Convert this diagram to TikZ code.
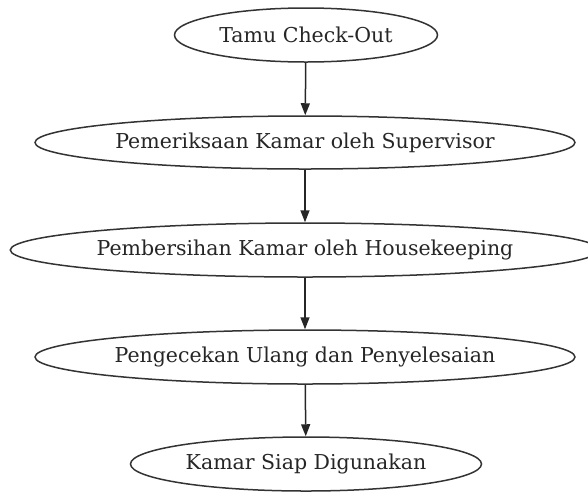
\documentclass[tikz,border=0pt]{standalone}
\usepackage{fontspec}
\setmainfont{DejaVu Serif}
\usetikzlibrary{shapes.geometric,arrows.meta}
\tikzset{
  stepnode/.style={draw=black!80, ellipse, inner sep=0pt, line width=1.5pt, font=\fontsize{20.5}{24}\selectfont, text=black!85},
  flowarrow/.style={draw=black!85, -{Triangle[length=12pt,width=9pt]}, line width=1.5pt}
}
\begin{document}
\begin{tikzpicture}[x=1pt,y=-1pt]
\clip (0,0) rectangle (588,491);
\useasboundingbox (0,0) rectangle (588,491);
\node[stepnode, minimum width=263pt, minimum height=54pt] (a) at (306,35) {Tamu Check-Out};
\node[stepnode, minimum width=540pt, minimum height=53pt] (b) at (305,142.5) {Pemeriksaan Kamar oleh Supervisor};
\node[stepnode, minimum width=588pt, minimum height=54pt] (c) at (305,250) {Pembersihan Kamar oleh Housekeeping};
\node[stepnode, minimum width=540pt, minimum height=54pt] (d) at (305,357) {Pengecekan Ulang dan Penyelesaian};
\node[stepnode, minimum width=351pt, minimum height=54pt] (e) at (306,464) {Kamar Siap Digunakan};
\draw[flowarrow] (a) -- (b);
\draw[flowarrow] (b) -- (c);
\draw[flowarrow] (c) -- (d);
\draw[flowarrow] (d) -- (e);
\end{tikzpicture}
\end{document}
